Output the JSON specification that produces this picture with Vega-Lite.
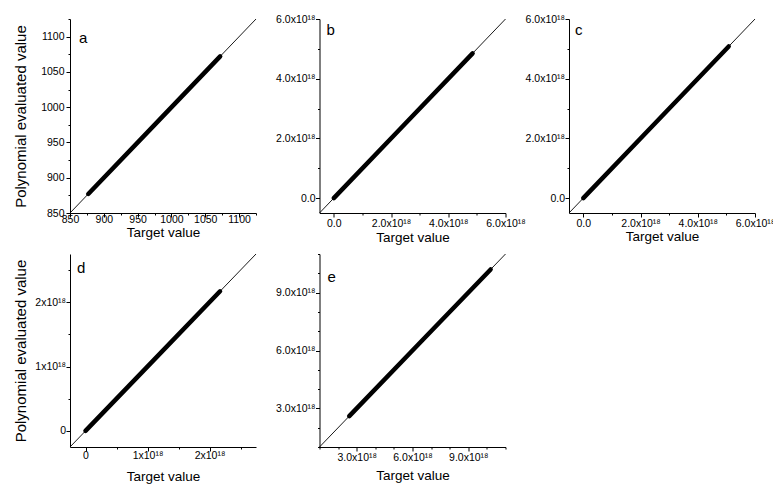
{
  "$schema": "https://vega.github.io/schema/vega-lite/v6.json",
  "padding": {"left": 13, "top": 14, "right": 5, "bottom": 5},
  "background": "white",
  "datasets": {
    "a": [
      {"s": "diag", "t": 850, "p": 850}, {"s": "diag", "t": 1125, "p": 1125},
      {"s": "fit", "t": 877, "p": 877}, {"s": "fit", "t": 975, "p": 975}, {"s": "fit", "t": 1072, "p": 1072}
    ],
    "b": [
      {"s": "diag", "t": -0.5e18, "p": -0.5e18}, {"s": "diag", "t": 6e18, "p": 6e18},
      {"s": "fit", "t": 0, "p": 0}, {"s": "fit", "t": 2.4e18, "p": 2.4e18}, {"s": "fit", "t": 4.85e18, "p": 4.85e18}
    ],
    "c": [
      {"s": "diag", "t": -0.5e18, "p": -0.5e18}, {"s": "diag", "t": 6e18, "p": 6e18},
      {"s": "fit", "t": 0, "p": 0}, {"s": "fit", "t": 2.5e18, "p": 2.5e18}, {"s": "fit", "t": 5.08e18, "p": 5.08e18}
    ],
    "d": [
      {"s": "diag", "t": -0.25e18, "p": -0.25e18}, {"s": "diag", "t": 2.75e18, "p": 2.75e18},
      {"s": "fit", "t": 0, "p": 0}, {"s": "fit", "t": 1.1e18, "p": 1.1e18}, {"s": "fit", "t": 2.17e18, "p": 2.17e18}
    ],
    "e": [
      {"s": "diag", "t": 1e18, "p": 1e18}, {"s": "diag", "t": 11e18, "p": 11e18},
      {"s": "fit", "t": 2.6e18, "p": 2.6e18}, {"s": "fit", "t": 6.4e18, "p": 6.4e18}, {"s": "fit", "t": 10.2e18, "p": 10.2e18}
    ]
  },
  "columns": 3,
  "spacing": {"row": 41, "column": 63.5},
  "bounds": "flush",
  "concat": [
    {
      "width": 186, "height": 194,
      "data": {"name": "a"},
      "title": {"text": "a", "dx": 9, "dy": 36},
      "encoding": {
        "x": {"field": "t", "type": "quantitative", "scale": {"domain": [850, 1125], "nice": false, "zero": false},
          "axis": {"title": "Target value", "values": [850, 875, 900, 925, 950, 975, 1000, 1025, 1050, 1075, 1100, 1125],
            "labelExpr": "datum.value % 50 == 0 ? format(datum.value, 'd') : ''",
            "tickSize": {"condition": {"test": "datum.value % 50 == 0", "value": 4}, "value": 2},
            "labelPadding": -2.5, "titlePadding": 0.5}},
        "y": {"field": "p", "type": "quantitative", "scale": {"domain": [850, 1125], "nice": false, "zero": false},
          "axis": {"title": "Polynomial evaluated value", "values": [850, 875, 900, 925, 950, 975, 1000, 1025, 1050, 1075, 1100, 1125],
            "labelExpr": "datum.value % 50 == 0 ? format(datum.value, 'd') : ''",
            "tickSize": {"condition": {"test": "datum.value % 50 == 0", "value": 4}, "value": 2},
            "labelPadding": 2, "minExtent": 34, "maxExtent": 34, "titlePadding": 8}}
      },
      "layer": [
        {"transform": [{"filter": "datum.s == 'diag'"}], "mark": {"type": "line", "color": "black", "strokeWidth": 0.9}},
        {"transform": [{"filter": "datum.s == 'fit'"}], "mark": {"type": "line", "color": "black", "strokeWidth": 4.5, "strokeCap": "round"}}
      ]
    },
    {
      "width": 186, "height": 194,
      "data": {"name": "b"},
      "title": {"text": "b", "dx": 7, "dy": 28},
      "encoding": {
        "x": {"field": "t", "type": "quantitative", "scale": {"domain": [-0.5e18, 6e18], "nice": false, "zero": false},
          "axis": {"title": "Target value", "values": [0, 1e18, 2e18, 3e18, 4e18, 5e18, 6e18],
            "labelExpr": "round(datum.value/1e18) % 2 == 0 ? (datum.value == 0 ? '0.0' : format(datum.value/1e18, '.1f') + 'x10¹⁸') : ''",
            "tickSize": {"condition": {"test": "round(datum.value/1e18) % 2 == 0", "value": 4}, "value": 2},
            "labelPadding": 1, "titlePadding": 1.5}},
        "y": {"field": "p", "type": "quantitative", "scale": {"domain": [-0.5e18, 6e18], "nice": false, "zero": false},
          "axis": {"title": null, "values": [0, 1e18, 2e18, 3e18, 4e18, 5e18, 6e18],
            "labelExpr": "round(datum.value/1e18) % 2 == 0 ? (datum.value == 0 ? '0.0' : format(datum.value/1e18, '.1f') + 'x10¹⁸') : ''",
            "tickSize": {"condition": {"test": "round(datum.value/1e18) % 2 == 0", "value": 4}, "value": 2},
            "labelPadding": 0.5}}
      },
      "layer": [
        {"transform": [{"filter": "datum.s == 'diag'"}], "mark": {"type": "line", "color": "black", "strokeWidth": 0.9}},
        {"transform": [{"filter": "datum.s == 'fit'"}], "mark": {"type": "line", "color": "black", "strokeWidth": 4.5, "strokeCap": "round"}}
      ]
    },
    {
      "width": 186, "height": 194,
      "data": {"name": "c"},
      "title": {"text": "c", "dx": 6, "dy": 28},
      "encoding": {
        "x": {"field": "t", "type": "quantitative", "scale": {"domain": [-0.5e18, 6e18], "nice": false, "zero": false},
          "axis": {"title": "Target value", "values": [0, 1e18, 2e18, 3e18, 4e18, 5e18, 6e18],
            "labelExpr": "round(datum.value/1e18) % 2 == 0 ? (datum.value == 0 ? '0.0' : format(datum.value/1e18, '.1f') + 'x10¹⁸') : ''",
            "tickSize": {"condition": {"test": "round(datum.value/1e18) % 2 == 0", "value": 4}, "value": 2},
            "labelPadding": 1, "titlePadding": 1}},
        "y": {"field": "p", "type": "quantitative", "scale": {"domain": [-0.5e18, 6e18], "nice": false, "zero": false},
          "axis": {"title": null, "values": [0, 1e18, 2e18, 3e18, 4e18, 5e18, 6e18],
            "labelExpr": "round(datum.value/1e18) % 2 == 0 ? (datum.value == 0 ? '0.0' : format(datum.value/1e18, '.1f') + 'x10¹⁸') : ''",
            "tickSize": {"condition": {"test": "round(datum.value/1e18) % 2 == 0", "value": 4}, "value": 2},
            "labelPadding": 0.5}}
      },
      "layer": [
        {"transform": [{"filter": "datum.s == 'diag'"}], "mark": {"type": "line", "color": "black", "strokeWidth": 0.9}},
        {"transform": [{"filter": "datum.s == 'fit'"}], "mark": {"type": "line", "color": "black", "strokeWidth": 4.5, "strokeCap": "round"}}
      ]
    },
    {
      "width": 186, "height": 193,
      "data": {"name": "d"},
      "title": {"text": "d", "dx": 7, "dy": 28},
      "encoding": {
        "x": {"field": "t", "type": "quantitative", "scale": {"domain": [-0.25e18, 2.75e18], "nice": false, "zero": false},
          "axis": {"title": "Target value", "values": [0, 5e17, 1e18, 1.5e18, 2e18, 2.5e18],
            "labelExpr": "round(datum.value/5e17) % 2 == 0 ? (datum.value == 0 ? '0' : format(datum.value/1e18, '.0f') + 'x10¹⁸') : ''",
            "tickSize": {"condition": {"test": "round(datum.value/5e17) % 2 == 0", "value": 4}, "value": 2},
            "labelPadding": -0.5, "titlePadding": 8}},
        "y": {"field": "p", "type": "quantitative", "scale": {"domain": [-0.25e18, 2.75e18], "nice": false, "zero": false},
          "axis": {"title": "Polynomial evaluated value", "values": [0, 5e17, 1e18, 1.5e18, 2e18, 2.5e18],
            "labelExpr": "round(datum.value/5e17) % 2 == 0 ? (datum.value == 0 ? '0' : format(datum.value/1e18, '.0f') + 'x10¹⁸') : ''",
            "tickSize": {"condition": {"test": "round(datum.value/5e17) % 2 == 0", "value": 4}, "value": 2},
            "labelPadding": 0.5, "minExtent": 34, "maxExtent": 34, "titlePadding": 8}}
      },
      "layer": [
        {"transform": [{"filter": "datum.s == 'diag'"}], "mark": {"type": "line", "color": "black", "strokeWidth": 0.9}},
        {"transform": [{"filter": "datum.s == 'fit'"}], "mark": {"type": "line", "color": "black", "strokeWidth": 4.5, "strokeCap": "round"}}
      ]
    },
    {
      "width": 186, "height": 193,
      "data": {"name": "e"},
      "title": {"text": "e", "dx": 8, "dy": 40},
      "encoding": {
        "x": {"field": "t", "type": "quantitative", "scale": {"domain": [1e18, 11e18], "nice": false, "zero": false},
          "axis": {"title": "Target value", "values": [1e18, 2e18, 3e18, 4e18, 5e18, 6e18, 7e18, 8e18, 9e18, 10e18, 11e18],
            "labelExpr": "round(datum.value/1e18) % 3 == 0 ? format(datum.value/1e18, '.1f') + 'x10¹⁸' : ''",
            "tickSize": {"condition": {"test": "round(datum.value/1e18) % 3 == 0", "value": 4}, "value": 2},
            "labelPadding": 1, "titlePadding": 6}},
        "y": {"field": "p", "type": "quantitative", "scale": {"domain": [1e18, 11e18], "nice": false, "zero": false},
          "axis": {"title": null, "values": [1e18, 2e18, 3e18, 4e18, 5e18, 6e18, 7e18, 8e18, 9e18, 10e18, 11e18],
            "labelExpr": "round(datum.value/1e18) % 3 == 0 ? format(datum.value/1e18, '.1f') + 'x10¹⁸' : ''",
            "tickSize": {"condition": {"test": "round(datum.value/1e18) % 3 == 0", "value": 4}, "value": 2},
            "labelPadding": 0.5}}
      },
      "layer": [
        {"transform": [{"filter": "datum.s == 'diag'"}], "mark": {"type": "line", "color": "black", "strokeWidth": 0.9}},
        {"transform": [{"filter": "datum.s == 'fit'"}], "mark": {"type": "line", "color": "black", "strokeWidth": 4.5, "strokeCap": "round"}}
      ]
    }
  ],
  "config": {
    "font": "Liberation Sans",
    "view": {"stroke": null},
    "title": {"anchor": "start", "frame": "group", "orient": "top", "fontSize": 15, "fontWeight": "normal", "color": "black", "offset": 0, "font": "Liberation Sans"},
    "axis": {
      "grid": false, "labelFont": "Liberation Sans", "titleFont": "Liberation Sans",
      "labelFontSize": 10.5, "labelColor": "black", "titleColor": "black", "titleFontWeight": "normal",
      "domainColor": "black", "tickColor": "black", "domainWidth": 1, "tickWidth": 1,
      "labelFlush": false, "labelOverlap": false, "labelPadding": 2
    },
    "axisX": {"titleFontSize": 13.5},
    "axisY": {"titleFontSize": 15}
  }
}
